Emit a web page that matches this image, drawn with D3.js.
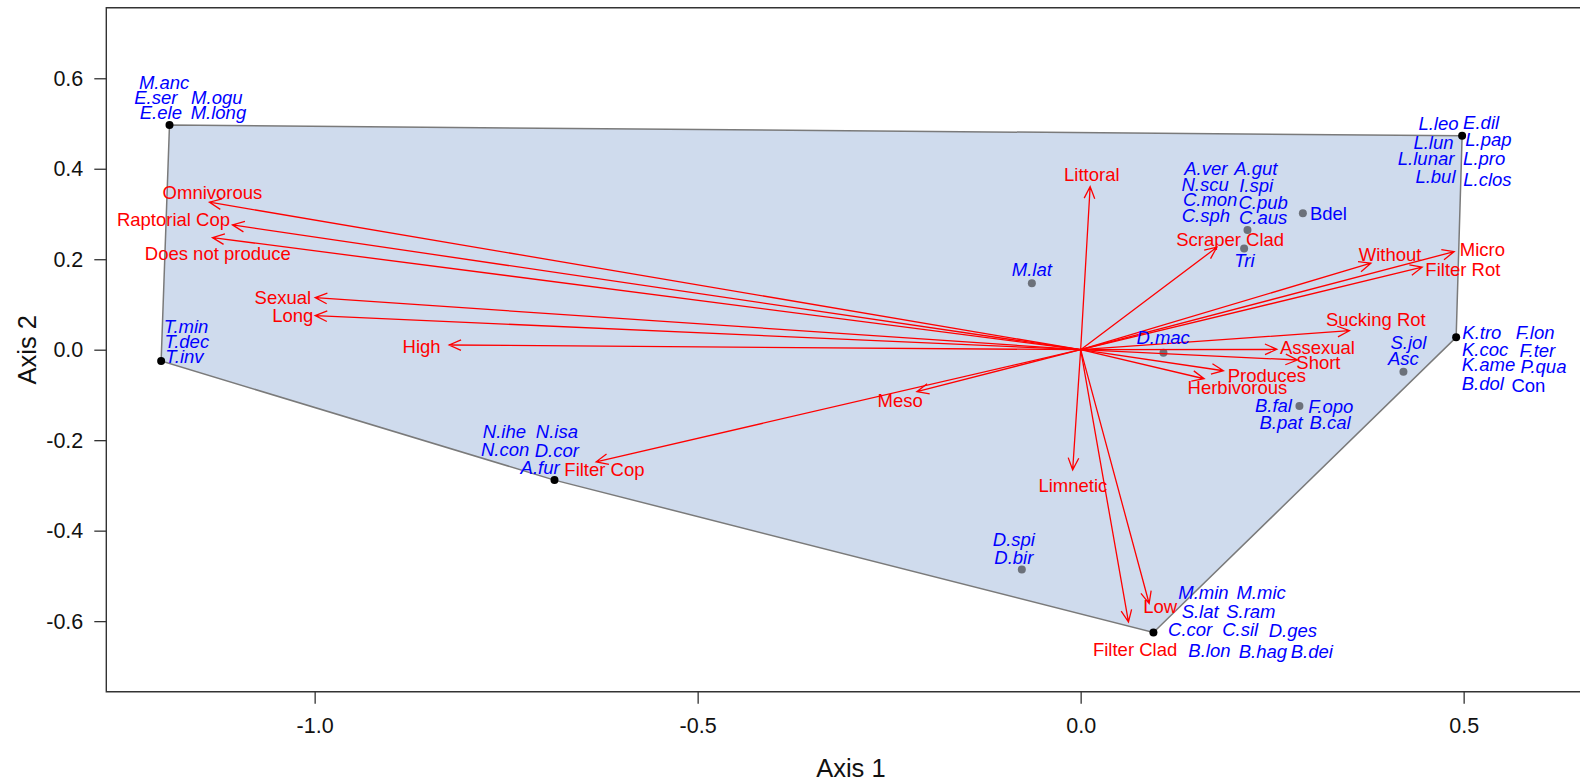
<!DOCTYPE html>
<html><head><meta charset="utf-8">
<script src="https://cdn.jsdelivr.net/npm/d3@7"></script>
<style>
html,body{margin:0;padding:0;background:#fff;}
svg{display:block;font-family:"Liberation Sans",Arial,Helvetica,sans-serif;}
</style>
</head><body>
<svg id="chart" width="1580" height="784"></svg>
<script>
// ---- axis settings ----
const xLimits = [-1.2, 0.6];
const yLimits = [-0.7, 0.7];
const xTicks = [-1.0, -0.5, 0.0, 0.5];
const yTicks = [-0.6, -0.4, -0.2, 0.0, 0.2, 0.4, 0.6];
const xTitle = "Axis 1";
const yTitle = "Axis 2";

// ---- site scores (points) ----
const siteX = [-1.1895, -1.2004, -0.6869, 0.0950, 0.4902, 0.4980, -0.0637, 0.1081, 0.2178, 0.2134, 0.2901, 0.4214, 0.2856, -0.0768];
const siteY = [0.4965, -0.0250, -0.2883, -0.6252, 0.0274, 0.4728, 0.1469, -0.0066, 0.2648, 0.2235, 0.3018, -0.0487, -0.1246, -0.4858];

// ---- trait vectors (arrows) ----
const traitNames = ["Omnivorous","Raptorial Cop","Does not produce","Sexual","Long","High","Meso","Filter Cop",
  "Littoral","Scraper Clad","Without","Micro","Filter Rot","Sucking Rot","Assexual","Short","Produces",
  "Herbivorous","Limnetic","Low","Filter Clad"];
const traitX = [-1.1373,-1.1073,-1.1334,-0.9993,-0.9993,-0.8244,-0.2138,-0.6325,
  0.0124,0.1778,0.3789,0.4876,0.4458,0.3509,0.2561,0.2830,0.1864,0.1612,-0.0104,0.0894,0.0624];
const traitY = [0.3261,0.2759,0.2478,0.1150,0.0752,0.0104,-0.0929,-0.2478,
  0.3606,0.2265,0.1912,0.2168,0.1823,0.0420,0.0009,-0.0228,-0.0465,-0.0642,-0.2655,-0.5611,-0.6018];
const traitLabelX = [-1.1334,-1.1843,-1.1264,-1.0415,-1.0285,-0.8604,-0.2356,-0.6217,
  0.0146,0.1952,0.4040,0.5245,0.4990,0.3854,0.3091,0.3104,0.2431,0.2047,-0.0102,0.1038,0.0711];
const traitLabelY = [0.3473,0.2869,0.2133,0.1150,0.0752,0.0066,-0.1113,-0.2646,
  0.3865,0.2427,0.2095,0.2206,0.1763,0.0657,0.0044,-0.0279,-0.0575,-0.0841,-0.2993,-0.5686,-0.6628];

// ---- species labels ----
const speciesNames = ["M.anc","E.ser","M.ogu","E.ele","M.long",
  "T.min","T.dec","T.inv",
  "N.ihe","N.isa","N.con","D.cor","A.fur",
  "D.spi","D.bir","M.lat","D.mac",
  "A.ver","A.gut","N.scu","I.spi","C.mon","C.pub","C.sph","C.aus","Bdel","Tri",
  "L.leo","E.dil","L.lun","L.pap","L.lunar","L.pro","L.bul","L.clos",
  "S.jol","Asc","K.tro","F.lon","K.coc","F.ter","K.ame","P.qua","B.dol","Con",
  "B.fal","F.opo","B.pat","B.cal",
  "M.min","M.mic","S.lat","S.ram","C.cor","C.sil","D.ges","B.lon","B.hag","B.dei"];
const speciesX = [-1.1965,-1.2073,-1.1277,-1.2008,-1.1256,
  -1.1678,-1.1668,-1.1700,
  -0.7522,-0.6838,-0.7513,-0.6838,-0.7056,
  -0.0872,-0.0872,-0.0637,0.1077,
  0.1634,0.2287,0.1625,0.2291,0.1691,0.2382,0.1634,0.2382,0.3235,0.2138,
  0.4671,0.5228,0.4606,0.5324,0.4510,0.5268,0.4632,0.5311,
  0.4279,0.4214,0.5238,0.5933,0.5281,0.5963,0.5324,0.6042,0.5251,0.5846,
  0.2517,0.3266,0.2617,0.3257,
  0.1603,0.2356,0.1560,0.2222,0.1430,0.2082,0.2770,0.1681,0.2379,0.3018];
const speciesY = [0.5907,0.5575,0.5575,0.5243,0.5243,
  0.0509,0.0177,-0.0155,
  -0.1814,-0.1814,-0.2204,-0.2219,-0.2602,
  -0.4195,-0.4597,0.1779,0.0259,
  0.4013,0.4013,0.3644,0.3622,0.3312,0.3252,0.2958,0.2920,0.3018,0.1969,
  0.4993,0.5022,0.4588,0.4655,0.4235,0.4235,0.3827,0.3754,
  0.0155,-0.0190,0.0376,0.0376,-0.0007,-0.0022,-0.0338,-0.0376,-0.0743,-0.0781,
  -0.1223,-0.1246,-0.1615,-0.1615,
  -0.5367,-0.5367,-0.5781,-0.5781,-0.6186,-0.6186,-0.6217,-0.6644,-0.6681,-0.6681];

// ---- drawing ----
const svg = d3.select("#chart");
const plotLeft = 106.3, plotTop = 7.7, plotBottom = 691.7, pxPerUnitX = 766;
const xr = xLimits[1] - xLimits[0], yr = yLimits[1] - yLimits[0];
const xDom = [xLimits[0] - 0.04 * xr, xLimits[1] + 0.04 * xr];
const yDom = [yLimits[0] - 0.04 * yr, yLimits[1] + 0.04 * yr];
const x = d3.scaleLinear().domain(xDom).range([plotLeft, plotLeft + (xDom[1] - xDom[0]) * pxPerUnitX]);
const y = d3.scaleLinear().domain(yDom).range([plotBottom, plotTop]);
const plotRight = x(xDom[1]);

// hull
const pts = siteX.map((d, i) => [x(d), y(siteY[i])]);
const hull = d3.polygonHull(pts);
svg.append("path")
  .attr("d", "M" + hull.map(p => p.join(",")).join("L") + "Z")
  .attr("fill", "#cfdbed")
  .attr("stroke", "#7a7a7a")
  .attr("stroke-width", 1.5);

// plot box
svg.append("path")
  .attr("d", `M${plotRight},${plotTop}H${plotLeft}V${plotBottom}H${plotRight}`)
  .attr("fill", "none").attr("stroke", "#333").attr("stroke-width", 1.4);

// axes
const fmt = d => d.toFixed(1);
const gx = svg.append("g").attr("transform", `translate(0,${plotBottom})`)
  .call(d3.axisBottom(x).tickValues(xTicks).tickFormat(fmt).tickSize(12).tickPadding(14));
const gy = svg.append("g").attr("transform", `translate(${plotLeft},0)`)
  .call(d3.axisLeft(y).tickValues(yTicks).tickFormat(fmt).tickSize(12).tickPadding(11));
[gx, gy].forEach(g => {
  g.select(".domain").remove();
  g.selectAll(".tick line").attr("stroke", "#333").attr("stroke-width", 1.3);
  g.selectAll(".tick text").attr("fill", "#111").style("font-size", "21.5px")
    .style("font-family", '"Liberation Sans",Arial,Helvetica,sans-serif');
});

svg.append("text").attr("x", (plotLeft + plotRight) / 2).attr("y", 777)
  .attr("text-anchor", "middle").attr("fill", "#111").style("font-size", "25.5px").text(xTitle);
svg.append("text").attr("transform", `translate(36,${(plotTop + plotBottom) / 2}) rotate(-90)`)
  .attr("text-anchor", "middle").attr("fill", "#111").style("font-size", "25.5px").text(yTitle);

// points
const hullSet = new Set(hull.map(p => p.join(",")));
svg.append("g").selectAll("circle").data(pts).join("circle")
  .attr("cx", d => d[0]).attr("cy", d => d[1]).attr("r", 4)
  .attr("fill", d => hullSet.has(d.join(",")) ? "#000" : "#6c717a");

// arrows
const ox = x(0), oy = y(0);
const headLen = 13, headAng = 24 * Math.PI / 180;
const ag = svg.append("g").attr("stroke", "#ff0000").attr("stroke-width", 1.3).attr("fill", "none");
traitNames.forEach((n, i) => {
  const tx = x(traitX[i]), ty = y(traitY[i]);
  const a = Math.atan2(ty - oy, tx - ox);
  const h1 = [tx - headLen * Math.cos(a - headAng), ty - headLen * Math.sin(a - headAng)];
  const h2 = [tx - headLen * Math.cos(a + headAng), ty - headLen * Math.sin(a + headAng)];
  ag.append("path").attr("d", `M${ox},${oy}L${tx},${ty}M${h1[0]},${h1[1]}L${tx},${ty}L${h2[0]},${h2[1]}`);
});

// trait labels
svg.append("g").selectAll("text").data(traitNames).join("text")
  .attr("x", (d, i) => x(traitLabelX[i])).attr("y", (d, i) => y(traitLabelY[i]))
  .attr("dy", "0.35em").attr("text-anchor", "middle")
  .attr("fill", "#ff0000").style("font-size", "18.5px").text(d => d);

// species labels
const upright = new Set(["Bdel", "Con"]);
svg.append("g").selectAll("text").data(speciesNames).join("text")
  .attr("x", (d, i) => x(speciesX[i])).attr("y", (d, i) => y(speciesY[i]))
  .attr("dy", "0.35em").attr("text-anchor", "middle")
  .attr("fill", "#0000ff").style("font-size", "18.5px")
  .style("font-style", d => upright.has(d) ? "normal" : "italic").text(d => d);
</script>
</body></html>
